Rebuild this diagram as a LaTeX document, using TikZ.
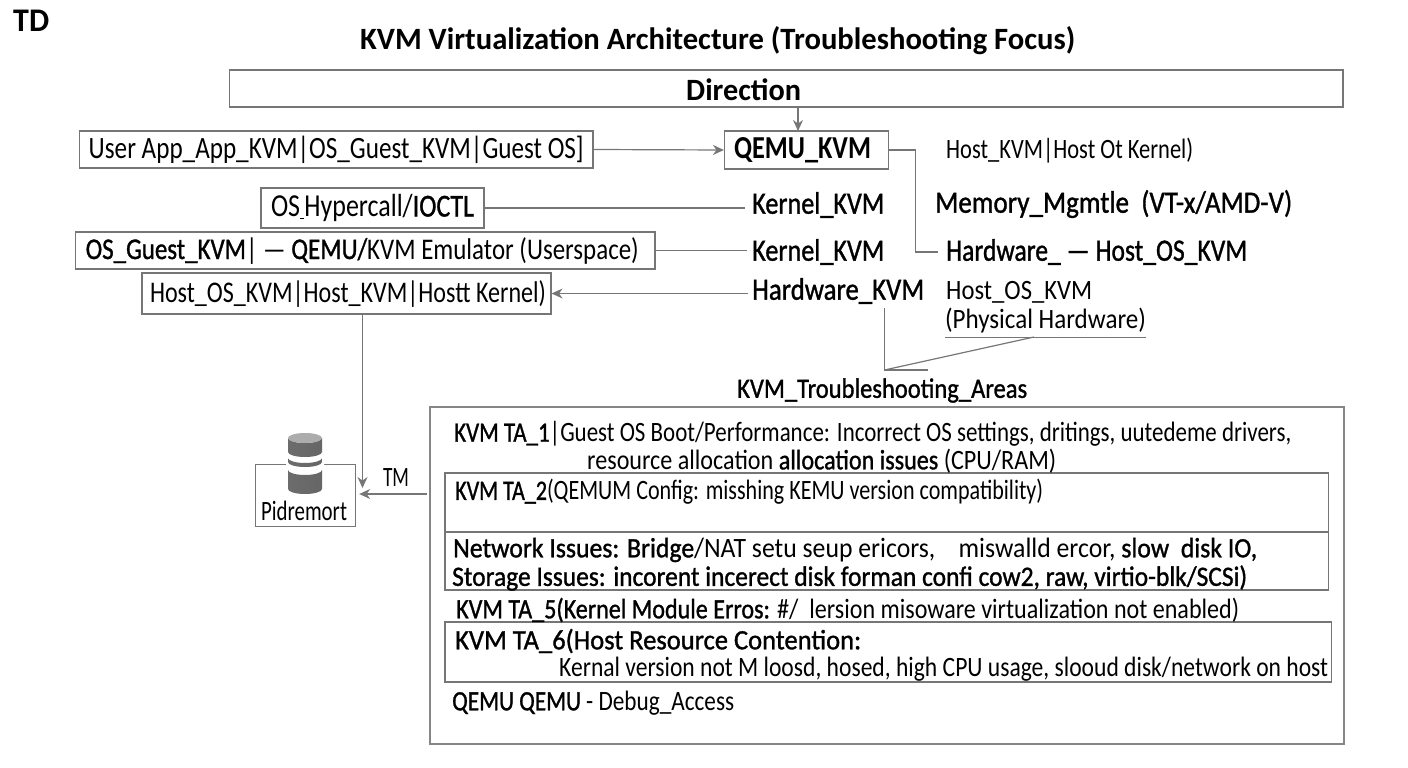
\documentclass[tikz,border=0pt]{standalone}
\usepackage{fontspec}
\setmainfont{Carlito}
\newfontfamily\semifont[FakeBold=1.2]{Carlito}
\usepackage{graphicx}
\usetikzlibrary{arrows.meta}

% squeeze a line to the width it has in the picture
\newcommand{\fitw}[2]{\resizebox{#1pt}{\height}{#2}}

\definecolor{lineGray}{HTML}{767676}
\definecolor{frameGray}{HTML}{868686}

\tikzset{
    box/.style={draw=lineGray, line width=1.2pt, inner sep=0pt},
    label/.style={inner sep=0pt, anchor=west, font=\fontsize{30}{30}\selectfont, text=black},
    small/.style={label, font=\fontsize{28}{28}\selectfont},
    strong/.style={label, font=\fontsize{31}{31}\selectfont\semifont},
    conn/.style={draw=lineGray, line width=1.2pt},
    flow/.style={conn, -{Stealth[length=11pt,width=10pt]}},
    band/.style={left color=gray!85!black, middle color=gray!60, right color=gray!80!black},
}

\begin{document}
\begin{tikzpicture}[x=1pt,y=-1pt]
    \useasboundingbox (0,0) rectangle (1408,768);

    \coordinate (dirIn) at (798, 131);
    \coordinate (pidIn) at (362.5, 488);
    \coordinate (tmIn) at (427, 494);
    \coordinate (hwFoot) at (884.5, 370);
    \coordinate (physTap) at (1034, 337);

    % heading
    \node[label, font=\fontsize{33}{33}\selectfont\bfseries] (tdMark) at (13, 21) {\fitw{36}{TD}};
    \node[label, font=\fontsize{31}{31}\selectfont\bfseries] (title) at (360, 41) {\fitw{715}{KVM Virtualization Architecture (Troubleshooting Focus)}};

    % boxes of the upper half
    \node[box, minimum width=1113.5pt, minimum height=37pt] (dirBox) at (786.25, 88.5) {};
    \node[label, font=\fontsize{31}{31}\selectfont\bfseries] (dirText) at (686, 90) {\fitw{115}{Direction}};
    \node[box, minimum width=513.5pt, minimum height=37pt] (userBox) at (336.25, 149.5) {\fontsize{31}{31}\selectfont\fitw{495}{User App\_App\_KVM|OS\_Guest\_KVM|Guest OS]}};
    \node[box, minimum width=164pt, minimum height=38pt] (qemuBox) at (806.5, 150) {\fontsize{32}{32}\selectfont\bfseries\hspace*{-8pt}\fitw{137}{QEMU\_KVM}};
    \node[box, minimum width=223pt, minimum height=40pt] (hyperBox) at (372.5, 208) {\fontsize{32}{32}\selectfont\fitw{203}{OS\underline{\,}Hypercall/{\semifont IOCTL}}};
    \node[box, minimum width=579.5pt, minimum height=37pt] (guestBox) at (365.25, 250.5) {\fontsize{30}{30}\selectfont\hspace*{-6pt}\fitw{553}{{\semifont OS\_Guest\_KVM}| — {\semifont QEMU/}KVM Emulator (Userspace)}};
    \node[box, minimum width=409pt, minimum height=41pt] (hostBox) at (346.5, 293.5) {\fontsize{30}{30}\selectfont\hspace*{3pt}\fitw{396}{Host\_OS\_KVM|Host\_KVM|Hostt Kernel)}};

    % labels of the upper half
    \node[strong] (kernelA) at (752, 205) {\fitw{132}{Kernel\_KVM}};
    \node[strong] (kernelB) at (752, 252) {\fitw{132}{Kernel\_KVM}};
    \node[strong, minimum height=34pt] (hwKvm) at (752, 291) {\fitw{172}{Hardware\_KVM}};
    \node[small] (hostKvm) at (946, 151) {\fitw{247}{Host\_KVM|Host Ot Kernel)}};
    \node[strong] (memMgmt) at (935, 204) {\fitw{357}{Memory\_Mgmtle\ \ (VT-x/AMD-V)}};
    \node[strong] (hwHost) at (946, 252) {\fitw{301}{Hardware\_ — Host\_OS\_KVM}};
    \node[small] (hostOs) at (946, 292) {\fitw{146}{Host\_OS\_KVM}};
    \node[small, anchor=center, minimum height=32pt] (physHw) at (1045.5, 321) {\fitw{201}{(Physical Hardware)}};

    % connectors of the upper half
    \draw[flow] (dirBox.south -| dirIn) -- (dirIn);
    \draw[flow] (userBox.east) -- (qemuBox.west);
    \draw[conn, shorten >=7pt] (hyperBox.east) -- (hyperBox.east -| kernelA.west);
    \draw[conn, shorten >=5pt] (guestBox.east) -- (guestBox.east -| kernelB.west);
    \draw[flow, shorten <=4pt] (hostBox.east -| hwKvm.west) -- (hostBox.east);
    \draw[conn, shorten >=8pt] (qemuBox.east) -- ++(26,0) |- (hwHost.west);
    \draw[conn] (physHw.south west) -- (physHw.south east);
    \draw[conn] (hwKvm.south -| hwFoot) -- (hwFoot) -- ++(43,0);
    \draw[conn] (hwFoot) -- (physTap);

    % troubleshooting area
    \node[label, font=\fontsize{28}{28}\selectfont\semifont] (areaTitle) at (737, 390.5) {\fitw{290}{KVM\_Troubleshooting\_Areas}};
    \node[box, draw=frameGray, line width=1.8pt, minimum width=914pt, minimum height=337pt] (areaBox) at (887, 575.5) {};
    \node[box, minimum width=883.5pt, minimum height=59pt] (taTwoBox) at (886.75, 502.5) {};
    \node[box, minimum width=883.5pt, minimum height=58pt] (taNetBox) at (886.75, 561) {};
    \node[box, minimum width=886.5pt, minimum height=60pt] (taSixBox) at (888.25, 652) {};

    \node[small] (taOneA) at (454, 434) {\fitw{837}{{\semifont KVM TA\_1}|Guest OS Boot/Performance: Incorrect OS settings, dritings, uutedeme drivers,}};
    \node[small] (taOneB) at (587, 461) {\fitw{469}{resource allocation {\semifont allocation issues} (CPU/RAM)}};
    \node[small] (taTwo) at (455, 492) {\fitw{588}{{\semifont KVM TA\_2}(QEMUM Config: misshing KEMU version compatibility)}};
    \node[small] (taNet) at (453, 550) {\fitw{804}{{\semifont Network Issues: Bridge}/NAT setu seup ericors,\ \ \ \ miswalld ercor, {\semifont slow\ \ disk IO,}}};
    \node[small] (taStore) at (452, 578) {\fitw{795}{{\semifont Storage Issues: incorent incerect disk forman confi cow2, raw, virtio-blk/SCSi)}}};
    \node[small] (taFive) at (456, 610) {\fitw{783}{{\semifont KVM TA\_5(Kernel Module Erros:} \#/\ \ lersion misoware virtualization not enabled)}};
    \node[small] (taSix) at (455, 641) {\fitw{406}{{\semifont KVM TA\_6(Host Resource Contention:}}};
    \node[small] (taSixB) at (559, 669) {\fitw{769}{Kernal version not M loosd, hosed, high CPU usage, slooud disk/network on host}};
    \node[small] (taQemu) at (452, 703) {\fitw{282}{{\semifont QEMU QEMU} - Debug\_Access}};

    % store box with the stack in it
    \node[box, minimum width=100pt, minimum height=62pt, anchor=north west] (pidBox) at (255, 464) {};
    \foreach \segTop/\segBot in {470/489, 458/462, 438/452} {
        \fill[white] (286, \segTop) -- (286, \segBot+4) arc[start angle=180, end angle=360, x radius=19pt, y radius=5pt] -- (324, \segTop) -- cycle;
        \shade[band] (288, \segTop) -- (288, \segBot) arc[start angle=180, end angle=360, x radius=17pt, y radius=5pt] -- (322, \segTop) arc[start angle=0, end angle=-180, x radius=17pt, y radius=5pt] -- cycle;
    }
    \fill[gray!65] (305, 438) ellipse[x radius=17pt, y radius=5pt];
    \node[small, anchor=center] (pidName) at (304, 511) {\fitw{86}{Pidremort}};

    \draw[flow] (hostBox.south -| pidIn) -- (pidIn);
    \draw[flow, shorten >=3pt] (tmIn) -- (tmIn -| pidBox.east);
    \node[small, anchor=center] (tmMark) at (396, 478) {\fitw{26}{TM}};
\end{tikzpicture}
\end{document}
